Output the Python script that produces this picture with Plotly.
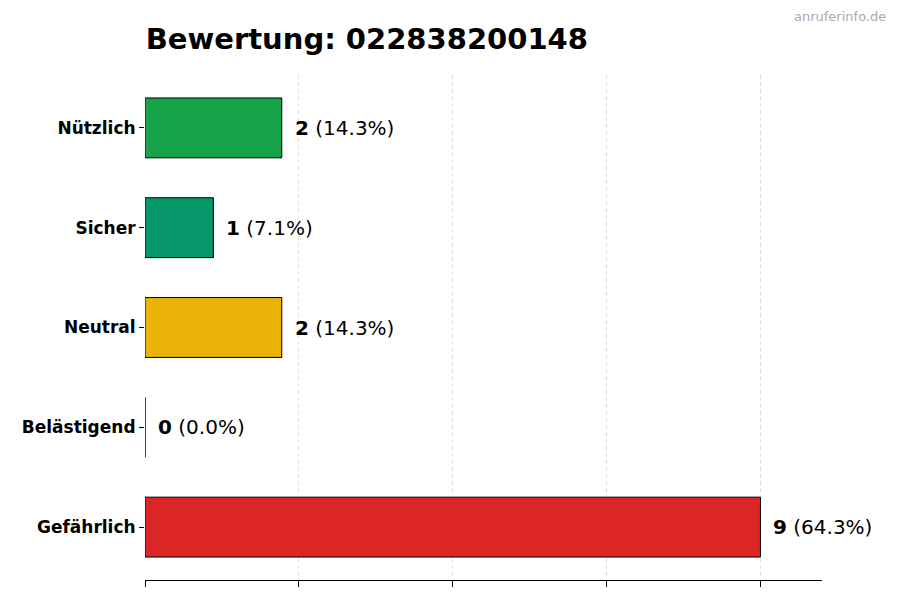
import plotly.graph_objects as go

categories = ["Gefährlich", "Belästigend", "Neutral", "Sicher", "Nützlich"]
counts = [9, 0, 2, 1, 2]
percents = [64.3, 0.0, 14.3, 7.1, 14.3]
colors = ["#dc2626", "#e11d48", "#eab308", "#059669", "#16a34a"]
x_ticks = [0, 2.25, 4.5, 6.75, 9]

fig = go.Figure()
fig.add_trace(go.Bar(
    x=counts, y=categories, orientation="h", width=0.6,
    marker=dict(color=colors, line=dict(color="black", width=1)),
    hoverinfo="x+y",
))

for c, n, p in zip(categories, counts, percents):
    fig.add_annotation(
        x=n, y=c, text=f"<b>{n}</b> ({p:.1f}%)", showarrow=False,
        xanchor="left", xshift=11, font=dict(size=20, color="black"),
    )

fig.add_annotation(
    xref="paper", yref="paper", x=1.097, y=1.135, text="anruferinfo.de",
    showarrow=False, xanchor="right", font=dict(size=13, color="#aaaaaa"),
)

fig.update_xaxes(
    range=[0, 9.9], tickvals=x_ticks, showticklabels=False,
    showgrid=True, gridcolor="#e0e0e0", griddash="4px,3px", gridwidth=1,
    ticks="outside", ticklen=6, tickcolor="black",
    showline=True, linecolor="black", linewidth=1, zeroline=False,
)
fig.update_yaxes(
    range=[-0.53, 4.53], ticks="outside", ticklen=5, tickcolor="black",
    showline=False, showgrid=False,
    tickprefix="<b>", ticksuffix="</b>",
    tickfont=dict(size=17, color="black", family="DejaVu Sans"),
)

fig.update_layout(
    width=900, height=600,
    title=dict(text="<b>Bewertung: 022838200148</b>", x=0.153, xanchor="left",
               y=0.965, font=dict(size=29, color="black")),
    font=dict(family="DejaVu Sans"),
    plot_bgcolor="white", paper_bgcolor="white",
    margin=dict(l=137, r=86, t=67, b=28),
    showlegend=False, bargap=0.4,
)

fig.write_html("out.html")
